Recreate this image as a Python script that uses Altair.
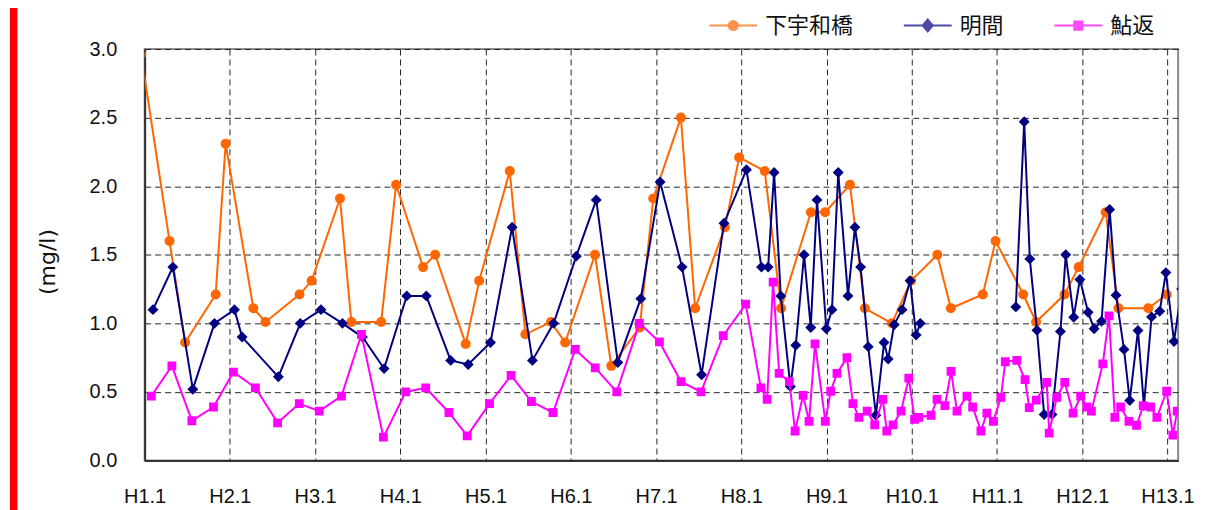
import altair as alt
import pandas as pd

SERIES = ["下宇和橋", "明間", "鮎返"]
COLORS = ["#FF6600", "#000080", "#FF00FF"]
SHAPES = ["circle", "diamond", "square"]
SIZES = [100, 120, 78]

# x = months since H1.1 (Jan), y = mg/l
shimo_x = [-0.5, 3.5, 5.7, 10.0, 11.4, 15.3, 17.0, 21.8, 23.5, 27.5,
           29.1, 33.3, 35.4, 39.2, 40.9, 45.2, 47.1, 51.4, 53.6, 57.2,
           59.2, 63.4, 65.7, 69.7, 71.6, 75.5, 77.5, 81.7, 83.7, 87.3,
           89.6, 93.8, 95.8, 99.3, 101.4, 105.2, 107.9, 111.6, 113.5, 118.0,
           119.8, 123.7, 125.5, 129.5, 131.5, 135.3, 137.1, 141.3, 143.9]
shimo_y = [2.96, 1.6, 0.86, 1.21, 2.31, 1.11, 1.01, 1.21, 1.31, 1.91,
           1.01, 1.01, 2.01, 1.41, 1.5, 0.85, 1.31, 2.11, 0.92, 1.01,
           0.86, 1.5, 0.69, 0.97, 1.91, 2.5, 1.11, 1.7, 2.21, 2.11,
           1.11, 1.81, 1.81, 2.01, 1.11, 1.0, 1.31, 1.5, 1.11, 1.21,
           1.6, 1.21, 1.01, 1.21, 1.41, 1.81, 1.11, 1.11, 1.21]

meikan_x = [1.17, 3.97, 6.78, 9.83, 12.64, 13.72, 18.82, 21.91, 24.82, 27.85,
            30.66, 33.71, 36.9, 39.65, 43.08, 45.55, 48.69, 51.73, 54.59, 57.58,
            60.77, 63.58, 66.61, 69.85, 72.57, 75.66, 78.41, 81.56, 84.73, 86.84,
            87.78, 88.62, 89.56, 90.91, 91.67, 92.84, 93.78, 94.66, 95.97, 96.77,
            97.65, 99.02, 100.0, 100.8, 101.87, 102.95, 104.1, 104.68, 105.52, 106.64,
            107.77, 108.61, 109.2,
            122.65, 123.83, 124.62, 125.63, 126.64, 127.75, 128.93, 129.68, 130.8, 131.67,
            132.84, 133.67, 134.72, 135.86, 136.76, 137.88, 138.69, 139.85, 140.69, 141.76,
            142.91, 143.78, 144.92, 146.0]
meikan_y = [1.10, 1.41, 0.52, 1.0, 1.10, 0.90, 0.61, 1.0, 1.10, 1.0,
            0.90, 0.67, 1.20, 1.20, 0.73, 0.70, 0.86, 1.70, 0.73, 1.0,
            1.49, 1.90, 0.715, 1.18, 2.03, 1.41, 0.625, 1.73, 2.12, 1.41,
            1.41, 2.10, 1.20, 0.54, 0.84, 1.50, 0.97, 1.90, 0.96, 1.10,
            2.10, 1.20, 1.70, 1.41, 0.83, 0.33, 0.86, 0.74, 0.99, 1.10,
            1.31, 0.915, 1.0,
            1.12, 2.47, 1.47, 0.95, 0.335, 0.335, 0.94, 1.50, 1.045, 1.32,
            1.08, 0.96, 1.015, 1.83, 1.205, 0.81, 0.437, 0.948, 0.40, 1.047,
            1.088, 1.37, 0.868, 1.25]

ayu_x = [0.94, 3.83, 6.64, 9.69, 12.5, 15.59, 18.72, 21.77, 24.58, 27.71,
         30.52, 33.61, 36.76, 39.57, 42.84, 45.41, 48.55, 51.59, 54.45, 57.49,
         60.63, 63.44, 66.47, 69.66, 72.47, 75.52, 78.33, 81.46, 84.62, 86.76,
         87.64, 88.48, 89.33, 90.77, 91.57, 92.7, 93.54, 94.38, 95.83, 96.59,
         97.47, 98.88, 99.72, 100.56, 101.73, 102.78, 103.93, 104.49, 105.37, 106.49,
         107.58, 108.4, 108.99, 110.72, 111.56, 112.67, 113.53, 114.37, 115.77, 116.57,
         117.74, 118.58, 119.48, 120.55, 121.17, 122.79, 123.95, 124.54, 125.53, 127.01,
         127.35, 128.41, 129.54, 130.72, 131.78, 132.63, 133.29, 134.9, 135.77, 136.59,
         137.4, 138.58, 139.65, 140.59, 141.62, 142.51, 143.89, 144.76, 145.37]
ayu_y = [0.47, 0.69, 0.29, 0.39, 0.645, 0.53, 0.275, 0.415, 0.36, 0.47,
         0.92, 0.17, 0.50, 0.53, 0.35, 0.18, 0.415, 0.62, 0.43, 0.35,
         0.81, 0.675, 0.50, 1.0, 0.865, 0.575, 0.50, 0.91, 1.14, 0.53,
         0.445, 1.30, 0.635, 0.575, 0.215, 0.475, 0.285, 0.85, 0.285, 0.505,
         0.635, 0.75, 0.415, 0.315, 0.36, 0.26, 0.445, 0.215, 0.26, 0.36,
         0.60, 0.30, 0.315, 0.33, 0.445, 0.40, 0.65, 0.36, 0.47, 0.39,
         0.215, 0.345, 0.285, 0.46, 0.72, 0.73, 0.59, 0.385, 0.44, 0.57,
         0.20, 0.46, 0.57, 0.345, 0.47, 0.39, 0.36, 0.705, 1.055, 0.315,
         0.39, 0.285, 0.257, 0.40, 0.39, 0.315, 0.505, 0.185, 0.36]

YEAR_TICKS = list(range(0, 145, 12))
Y_TICKS = [0, 0.5, 1.0, 1.5, 2.0, 2.5, 3.0]

frames = []
for name, xs, ys in zip(SERIES, [shimo_x, meikan_x, ayu_x], [shimo_y, meikan_y, ayu_y]):
    seg = 0
    segs = []
    for i in range(len(xs)):
        if i > 0 and xs[i] - xs[i - 1] > 12:
            seg += 1
        segs.append(f"{name}-{seg}")
    frames.append(pd.DataFrame({"series": name, "m": xs, "v": ys, "seg": segs}))

FONT = "Liberation Sans"
GRID = dict(grid=True, gridColor="#262626", gridDash=[6, 4], gridWidth=1)

x_enc = alt.X("m:Q", scale=alt.Scale(domain=[0, 145.5], nice=False, zero=False),
              axis=alt.Axis(values=YEAR_TICKS, title=None,
                            labelExpr="'H' + (datum.value / 12 + 1) + '.1'",
                            labelFont=FONT, labelFontSize=20, labelColor="#111",
                            labelBaseline="alphabetic", labelPadding=42,
                            ticks=False, tickSize=0, labelFlush=False,
                            domainColor="#333", domainWidth=2, **GRID))
y_enc = alt.Y("v:Q", scale=alt.Scale(domain=[0, 3], nice=False),
              axis=alt.Axis(values=Y_TICKS, format=".1f", title="(mg/l)",
                            labelFont=FONT, labelFontSize=20, labelColor="#111",
                            labelPadding=28, ticks=False, tickSize=0,
                            domainColor="#333", domainWidth=2, **GRID,
                            titleFont="DejaVu Sans", titleFontSize=22, titleFontWeight="normal",
                            titleColor="#111", titleAngle=270, titleAlign="center",
                            titleBaseline="middle", titleX=-97, titleY=213))

layers = []
bar = alt.Chart(pd.DataFrame({"a": [0]})).mark_rule(color="#FF0000", strokeWidth=7.5).encode(
    x=alt.value(-131.3), y=alt.value(-41), y2=alt.value(470))
layers.append(bar)

for i, df in enumerate(frames):
    line = alt.Chart(df).mark_line(color=COLORS[i], strokeWidth=2, clip=True).encode(
        x=x_enc, y=y_enc, detail="seg:N")
    pts = alt.Chart(df).mark_point(filled=True, shape=SHAPES[i], size=SIZES[i],
                                   color=COLORS[i], opacity=1, clip=True).encode(
        x=x_enc, y=y_enc)
    layers += [line, pts]

LEGEND_PATHS = [
    "M-1,0H-0.19A0.19,0.19,0,1,1,0.19,0H1M0.19,0A0.19,0.19,0,1,1,-0.19,0Z",
    "M-1,0H1M0,-0.25L0.21,0L0,0.25L-0.21,0Z",
    "M-1,0H1M-0.17,-0.17H0.17V0.17H-0.17Z",
]
leg = alt.Legend(title=None, orient="none", legendX=565, legendY=-48.5,
                 direction="horizontal", columns=3, columnPadding=46, padding=0,
                 labelFont="Noto Sans CJK JP", labelFontSize=22, labelColor="#111",
                 labelOffset=7, symbolSize=2304, symbolStrokeWidth=2, labelBaseline="middle")
legend_layer = alt.Chart(pd.DataFrame({"series": SERIES})).mark_point(
    filled=True, clip=True, strokeWidth=2).encode(
    x=alt.value(-300), y=alt.value(-300),
    color=alt.Color("series:N", scale=alt.Scale(domain=SERIES, range=COLORS), legend=leg),
    stroke=alt.Stroke("series:N", scale=alt.Scale(domain=SERIES, range=COLORS), legend=leg),
    shape=alt.Shape("series:N", scale=alt.Scale(domain=SERIES, range=LEGEND_PATHS), legend=leg),
)
layers.append(legend_layer)

chart = alt.layer(*layers).properties(
    width=1036, height=412.5,
    autosize=alt.AutoSizeParams(type="none"),
    padding={"left": 137, "top": 40.5, "right": 45, "bottom": 50},
).configure_view(stroke="#8c8c8c", strokeWidth=2)

chart.save("out.html", embed_options={"renderer": "svg", "actions": False})
